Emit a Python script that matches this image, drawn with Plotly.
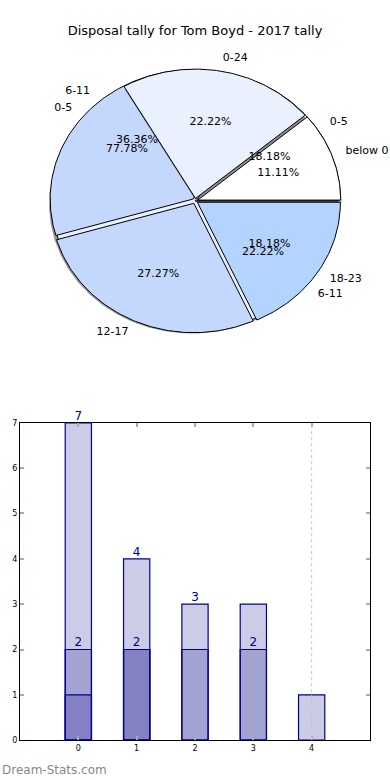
import numpy as np
import plotly.graph_objects as go

title = "Disposal tally for Tom Boyd - 2017 tally"

# Pie drawn first (games per disposal band)
outer_labels = ["0-5", "6-11", "12-17", "18-23"]
outer_values = [2, 4, 3, 2]

# Pie drawn on top (wedge extents read in ninths; pct texts as printed)
inner_labels = ["below 0", "0-24", "0-5", "", "6-11"]
inner_values = [1, 2, 1, 3, 2]
inner_pct = ["11.11%", "22.22%", "77.78%", "", "22.22%"]

# Bar chart (three overlaid series)
bar_x = [0, 1, 2, 3, 4]
bar_a = [7, 4, 3, 3, 1]
bar_b = [2, 2, 2, 2, 0]
bar_c = [1, 2, 0, 0, 0]
label_a = ["7", "4", "3", "", ""]
label_b = ["2", "", "", "2", ""]
label_c = ["", "2", "", "", ""]

# styles
outer_colors = ["#e8f0fe", "#c4d8fe", "#c4d8fe", "#b3d4fe"]
inner_colors = ["#ffffff", "#e9f1fe", None, None, None]
FONT = "DejaVu Sans"
W, H = 390, 780
HEFF = 775.0  # effective rendered paper height observed


def py(ypx):
    """paper fraction for a pixel row measured from the top"""
    return 1 - ypx / HEFF


fig = go.Figure()


def wedge(t1, t2, e, dx=0.0, dy=0.0):
    mid = np.deg2rad((t1 + t2) / 2)
    cx, cy = e * np.cos(mid) + dx, e * np.sin(mid) + dy
    th = np.deg2rad(np.linspace(t1, t2, max(3, int(abs(t2 - t1)) + 2)))
    xs = np.concatenate([[cx], cx + np.cos(th), [cx]])
    ys = np.concatenate([[cy], cy + np.sin(th), [cy]])
    return xs, ys


def add_poly(xs, ys, fill, line=None):
    fig.add_trace(go.Scatter(
        x=xs, y=ys, mode="lines", fill="toself", fillcolor=fill,
        line=dict(color=line or "rgba(0,0,0,0)", width=1 if line else 0),
        xaxis="x2", yaxis="y2", hoverinfo="skip", showlegend=False))


def spans(values):
    tot = sum(values)
    c = np.concatenate([[0], np.cumsum(values)]) / tot * 360
    return list(zip(c[:-1], c[1:]))


EXP_O, EXP_I = 0.02, 0.02
o_sp = spans(outer_values)
i_sp = spans(inner_values)

# shadow + underlay for the first pie
xs, ys = wedge(0, 360, 0, -0.02, -0.025)
add_poly(xs, ys, "rgba(60,60,60,0.55)")
xs, ys = wedge(0, 360, 0)
add_poly(xs, ys, "#e8f0fe", "#000000")
for (t1, t2), col in zip(o_sp, outer_colors):
    xs, ys = wedge(t1, t2, EXP_O)
    add_poly(xs, ys, col, "#000000")

# top pie: shadows then wedges (only coloured wedges drawn)
for (t1, t2), col in zip(i_sp, inner_colors):
    if col:
        xs, ys = wedge(t1, t2, EXP_I, 0.005, -0.022)
        add_poly(xs, ys, "rgba(60,60,60,0.55)")
for (t1, t2), col in zip(i_sp, inner_colors):
    if col:
        xs, ys = wedge(t1, t2, EXP_I)
        add_poly(xs, ys, col, "#000000")


def pie_texts(sp, labels, pcts, exp):
    for (t1, t2), lab, pct in zip(sp, labels, pcts):
        m = np.deg2rad((t1 + t2) / 2)
        cx, cy = exp * np.cos(m), exp * np.sin(m)
        if lab:
            lx, ly = cx + 1.1 * np.cos(m), cy + 1.1 * np.sin(m)
            fig.add_trace(go.Scatter(
                x=[lx], y=[ly], mode="text", text=[lab],
                textposition="middle right" if lx > 0 else "middle left",
                textfont=dict(family=FONT, size=11, color="#000000"),
                xaxis="x2", yaxis="y2", hoverinfo="skip", showlegend=False))
        if pct:
            px, pyy = cx + 0.6 * np.cos(m), cy + 0.6 * np.sin(m)
            fig.add_trace(go.Scatter(
                x=[px], y=[pyy], mode="text", text=[pct],
                textposition="middle center",
                textfont=dict(family=FONT, size=11, color="#000000"),
                xaxis="x2", yaxis="y2", hoverinfo="skip", showlegend=False))


outer_pct = ["%.2f%%" % (100 * v / sum(outer_values)) for v in outer_values]
pie_texts(o_sp, outer_labels, outer_pct, EXP_O)
pie_texts(i_sp, inner_labels, inner_pct, EXP_I)

# bars
for vals in (bar_a, bar_b, bar_c):
    fig.add_trace(go.Bar(
        x=bar_x, y=[v if v else None for v in vals], width=0.45,
        marker=dict(color="rgba(0,0,128,0.2)",
                    line=dict(color="#00008b", width=1.2)),
        hoverinfo="skip", showlegend=False))
for vals, labs in ((bar_a, label_a), (bar_b, label_b), (bar_c, label_c)):
    fig.add_trace(go.Scatter(
        x=bar_x, y=vals, mode="text", text=labs, textposition="top center",
        textfont=dict(family=FONT, size=12, color="#00008b"),
        cliponaxis=False, hoverinfo="skip", showlegend=False))

# pie axes geometry: rx=143px, ry=130px, centre (195,198)
rx, ry, cxp, cyp = 143.0, 130.0, 195.0, 198.0
ytop, ybot = 40.0, 360.0
ry_eff = ry * H / HEFF
fig.update_layout(
    xaxis2=dict(domain=[0, 1], range=[-cxp / rx, (W - cxp) / rx], visible=False,
                anchor="y2"),
    yaxis2=dict(domain=[py(ybot), py(ytop)],
                range=[-(ybot - cyp) / ry, (cyp - ytop) / ry], visible=False,
                anchor="x2"),
)

axis_common = dict(showline=True, linecolor="#000000", linewidth=1, mirror="ticks",
                   ticks="inside", ticklen=4, tickwidth=1.5, tickcolor="#aaaaaa",
                   showgrid=False, zeroline=False,
                   tickfont=dict(family=FONT, size=8, color="#000000"))
fig.update_layout(
    xaxis=dict(domain=[20 / W, 370 / W], range=[-1, 5], tickvals=bar_x,
               anchor="y", **axis_common),
    yaxis=dict(domain=[py(740), py(421)], range=[0, 7],
               tickvals=list(range(8)), anchor="x", **axis_common),
    barmode="overlay",
    width=W, height=H, margin=dict(l=0, r=0, t=0, b=0),
    paper_bgcolor="#ffffff", plot_bgcolor="#ffffff",
    title=dict(text=title, x=0.5, xanchor="center", y=py(30), yanchor="middle",
               font=dict(family=FONT, size=13, color="#000000")),
    shapes=[dict(type="line", xref="x", yref="y domain", x0=bar_x[-1], x1=bar_x[-1],
                 y0=0, y1=1, line=dict(color="#c4c4c4", width=1, dash="dot"))],
    annotations=[dict(text="Dream-Stats.com", xref="paper", yref="paper",
                      x=0, y=py(770), xanchor="left", yanchor="middle",
                      showarrow=False,
                      font=dict(family=FONT, size=12, color="#888888"))],
)

fig.write_html("out.html", config={"displayModeBar": False},
               post_script="document.body.style.margin='0';"
                           "document.body.style.overflow='hidden';")
